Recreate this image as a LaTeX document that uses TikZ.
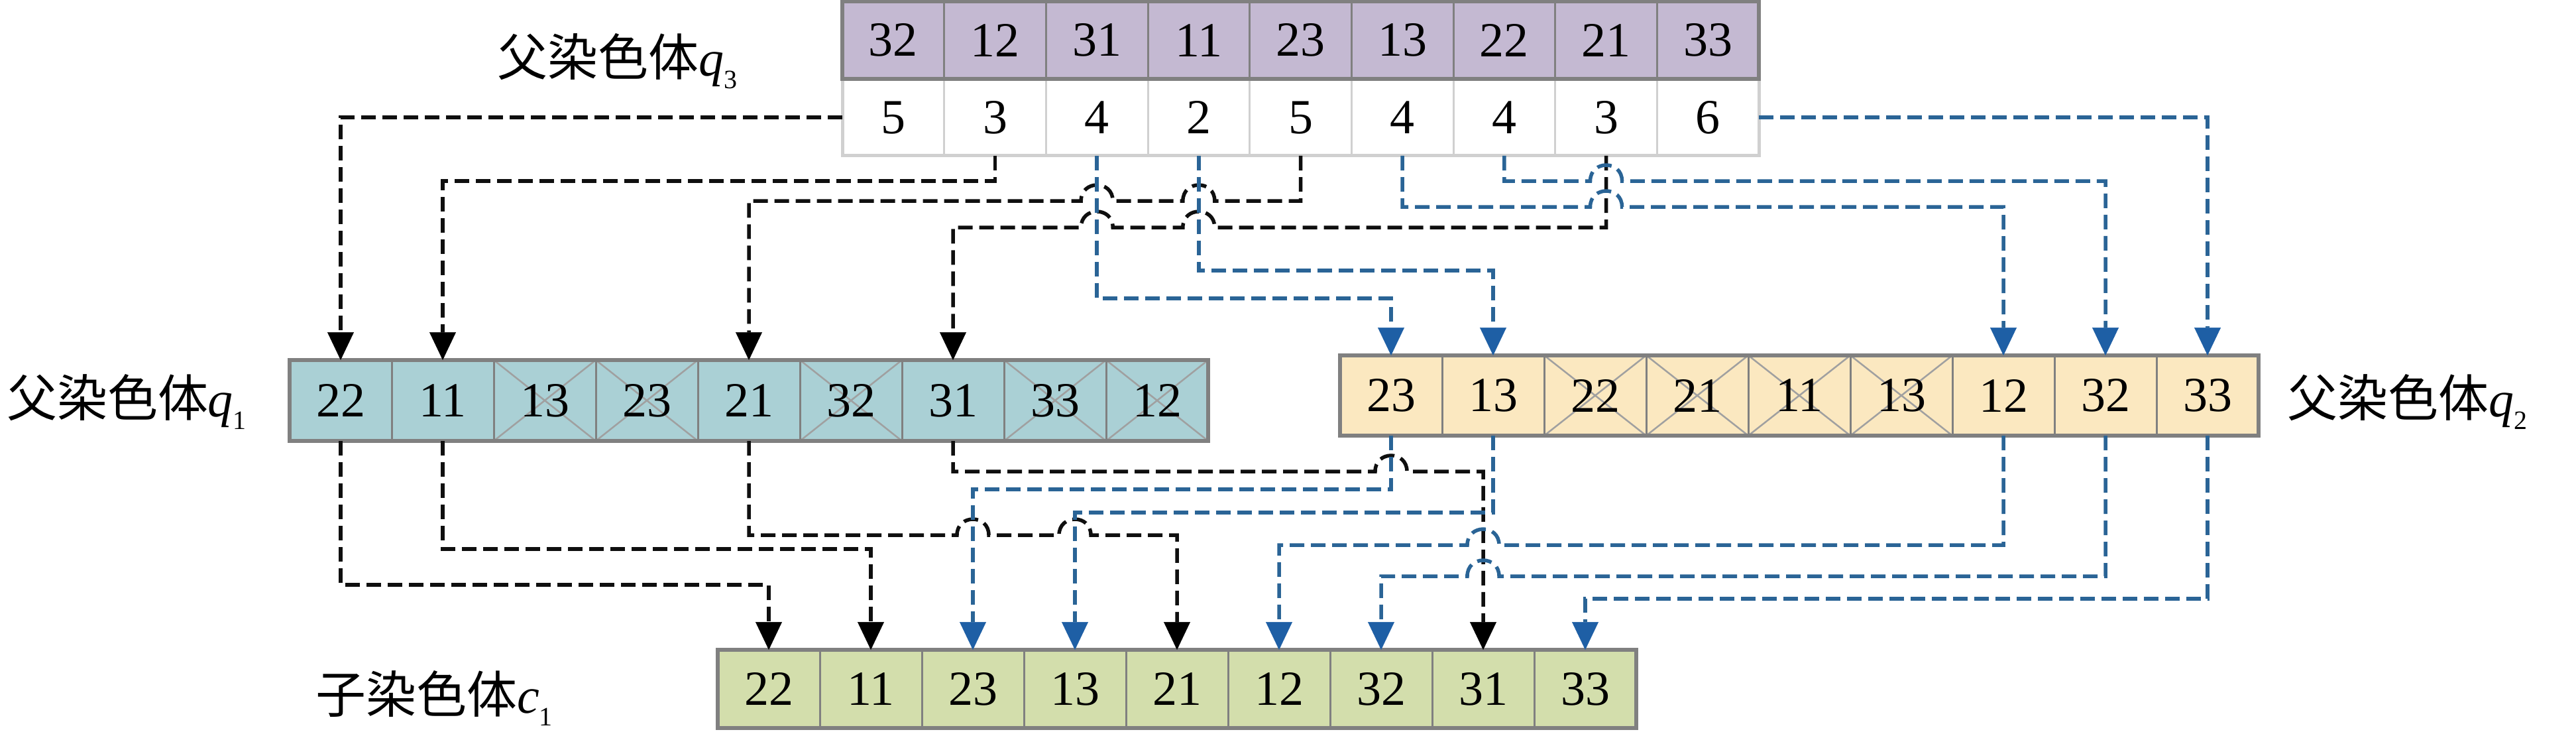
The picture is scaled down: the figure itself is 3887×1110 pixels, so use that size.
\documentclass[tikz,border=0pt]{standalone}
\usepackage{fontspec}
\setmainfont{Liberation Serif}
\newfontfamily\cjk{Noto Sans CJK SC}
\usetikzlibrary{arrows.meta}
\definecolor{purp}{RGB}{196,185,210}
\definecolor{tealc}{RGB}{170,208,213}
\definecolor{yell}{RGB}{251,232,192}
\definecolor{grn}{RGB}{211,222,172}
\definecolor{dgray}{RGB}{128,128,128}
\definecolor{lgray}{RGB}{208,208,208}
\definecolor{xgray}{RGB}{160,160,160}
\definecolor{blackline}{RGB}{15,15,15}
\definecolor{blueline}{RGB}{42,100,150}
\definecolor{bluehead}{RGB}{30,95,165}
\newcommand{\chromlbl}[3]{{\fontsize{76}{76}\selectfont{\cjk #1}\textit{#2}\raisebox{-19pt}{\fontsize{40}{40}\selectfont #3}}}
\tikzset{
  cellbase/.style={minimum width=153.67pt, inner sep=0pt, outer sep=0pt, line width=3pt, font=\fontsize{74}{74}\selectfont},
  crossed/.style={path picture={\draw[draw=xgray,line width=2.5pt] (path picture bounding box.north west) -- (path picture bounding box.south east) (path picture bounding box.north east) -- (path picture bounding box.south west);}},
  xo/.code={\ifnum#1=1\relax\pgfkeysalso{/tikz/crossed}\fi},
  q3top/.style={cellbase, minimum height=117.5pt, fill=purp, draw=dgray},
  q3bot/.style={cellbase, minimum height=115.5pt, fill=white, draw=lgray},
  q1cell/.style={cellbase, minimum width=154pt, minimum height=122pt, fill=tealc, draw=dgray},
  q2cell/.style={cellbase, minimum width=154pt, minimum height=121pt, fill=yell, draw=dgray},
  ccell/.style={cellbase, minimum width=154pt, minimum height=118pt, fill=grn, draw=dgray},
  frame/.style={draw=dgray, line width=6pt},
  lframe/.style={draw=lgray, line width=5pt},
  conn/.style={line width=5.5pt, dash pattern=on 22pt off 10pt},
  blk/.style={conn, draw=blackline, -{Triangle[length=42pt,width=40pt,line width=0.5pt,color=black]}},
  blu/.style={conn, draw=blueline, -{Triangle[length=42pt,width=40pt,line width=0.5pt,color=bluehead]}},
  lbl/.style={anchor=base west, inner sep=0pt, outer sep=0pt},
  hopL/.style 2 args={insert path={-- ({#1+24},#2) .. controls ({#1+24},{#2-32}) and ({#1-24},{#2-32}) .. ({#1-24},#2)}},
  hopR/.style 2 args={insert path={-- ({#1-24},#2) .. controls ({#1-24},{#2-32}) and ({#1+24},{#2-32}) .. ({#1+24},#2)}}
}
\begin{document}
\begin{tikzpicture}[x=1pt,y=-1pt]
\fill[white] (0,0) rectangle (3887,1110);
\useasboundingbox (0,0) rectangle (3887,1110);

% parent q3
\foreach \v [count=\i] in {32,12,31,11,23,13,22,21,33}
  \node[q3top] (q3a\i) at ({1271+153.67*(\i-0.5)},60.75) {\v};
\foreach \v [count=\i] in {5,3,4,2,5,4,4,3,6}
  \node[q3bot] (q3b\i) at ({1271+153.67*(\i-0.5)},177.25) {\v};
\draw[lframe] (q3b1.north west) rectangle (q3b9.south east);
\draw[frame] (q3a1.north west) rectangle (q3a9.south east);

% parent q1
\foreach \v/\c [count=\i] in {22/0,11/0,13/1,23/1,21/0,32/1,31/0,33/1,12/1}
  \node[q1cell, xo=\c] (q1c\i) at ({437+154*(\i-0.5)},604) {\v};
\draw[frame] (q1c1.north west) rectangle (q1c9.south east);

% parent q2
\foreach \v/\c [count=\i] in {23/0,13/0,22/1,21/1,11/1,13/1,12/0,32/0,33/0}
  \node[q2cell, xo=\c] (q2c\i) at ({2022+154*(\i-0.5)},596.5) {\v};
\draw[frame] (q2c1.north west) rectangle (q2c9.south east);

% child c1
\foreach \v [count=\i] in {22,11,23,13,21,12,32,31,33}
  \node[ccell] (cc\i) at ({1083+154*(\i-0.5)},1039) {\v};
\draw[frame] (cc1.north west) rectangle (cc9.south east);

% labels
\node[lbl] (lq3) at (750,115) {\chromlbl{父染色体}{q}{3}};
\node[lbl] (lq1) at (10,628) {\chromlbl{父染色体}{q}{1}};
\node[lbl] (lq2) at (3451,628) {\chromlbl{父染色体}{q}{2}};
\node[lbl] (lc1) at (476,1075) {\chromlbl{子染色体}{c}{1}};

% q3 -> q1 (black)
\draw[blk] (q3b1.west) -| (q1c1.north);
\draw[blk] (q3b2.south) -- (q3b2.south |- 0,273) -| (q1c2.north);
\draw[blk] (q3b5.south) -- (q3b5.south |- 0,303) [hopL={1808.845}{303}] [hopL={1655.175}{303}] -| (q1c5.north);
\draw[blk] (q3b8.south) -- (q3b8.south |- 0,343) [hopL={1808.845}{343}] [hopL={1655.175}{343}] -| (q1c7.north);

% q3 -> q2 (blue)
\draw[blu] (q3b3.south) -- (q3b3.south |- 0,450) -| (q2c1.north);
\draw[blu] (q3b4.south) -- (q3b4.south |- 0,408) -| (q2c2.north);
\draw[blu] (q3b6.south) -- (q3b6.south |- 0,312) [hopR={2423.525}{312}] -| (q2c7.north);
\draw[blu] (q3b7.south) -- (q3b7.south |- 0,273) [hopR={2423.525}{273}] -| (q2c8.north);
\draw[blu] (q3b9.east) -| (q2c9.north);

% q1 -> c1 (black)
\draw[blk] (q1c1.south) -- (q1c1.south |- 0,882) -| (cc1.north);
\draw[blk] (q1c2.south) -- (q1c2.south |- 0,828) -| (cc2.north);
\draw[blk] (q1c5.south) -- (q1c5.south |- 0,807) [hopR={1468}{807}] [hopR={1622}{807}] -| (cc5.north);
\draw[blk] (q1c7.south) -- (q1c7.south |- 0,711) [hopR={2099}{711}] -| (cc8.north);

% q2 -> c1 (blue)
\draw[blu] (q2c1.south) -- (q2c1.south |- 0,738) -| (cc3.north);
\draw[blu] (q2c2.south) -- (q2c2.south |- 0,773) -| (cc4.north);
\draw[blu] (q2c7.south) -- (q2c7.south |- 0,822) [hopL={2238}{822}] -| (cc6.north);
\draw[blu] (q2c8.south) -- (q2c8.south |- 0,869) [hopL={2238}{869}] -| (cc7.north);
\draw[blu] (q2c9.south) -- (q2c9.south |- 0,903) -| (cc9.north);
\end{tikzpicture}
\end{document}
